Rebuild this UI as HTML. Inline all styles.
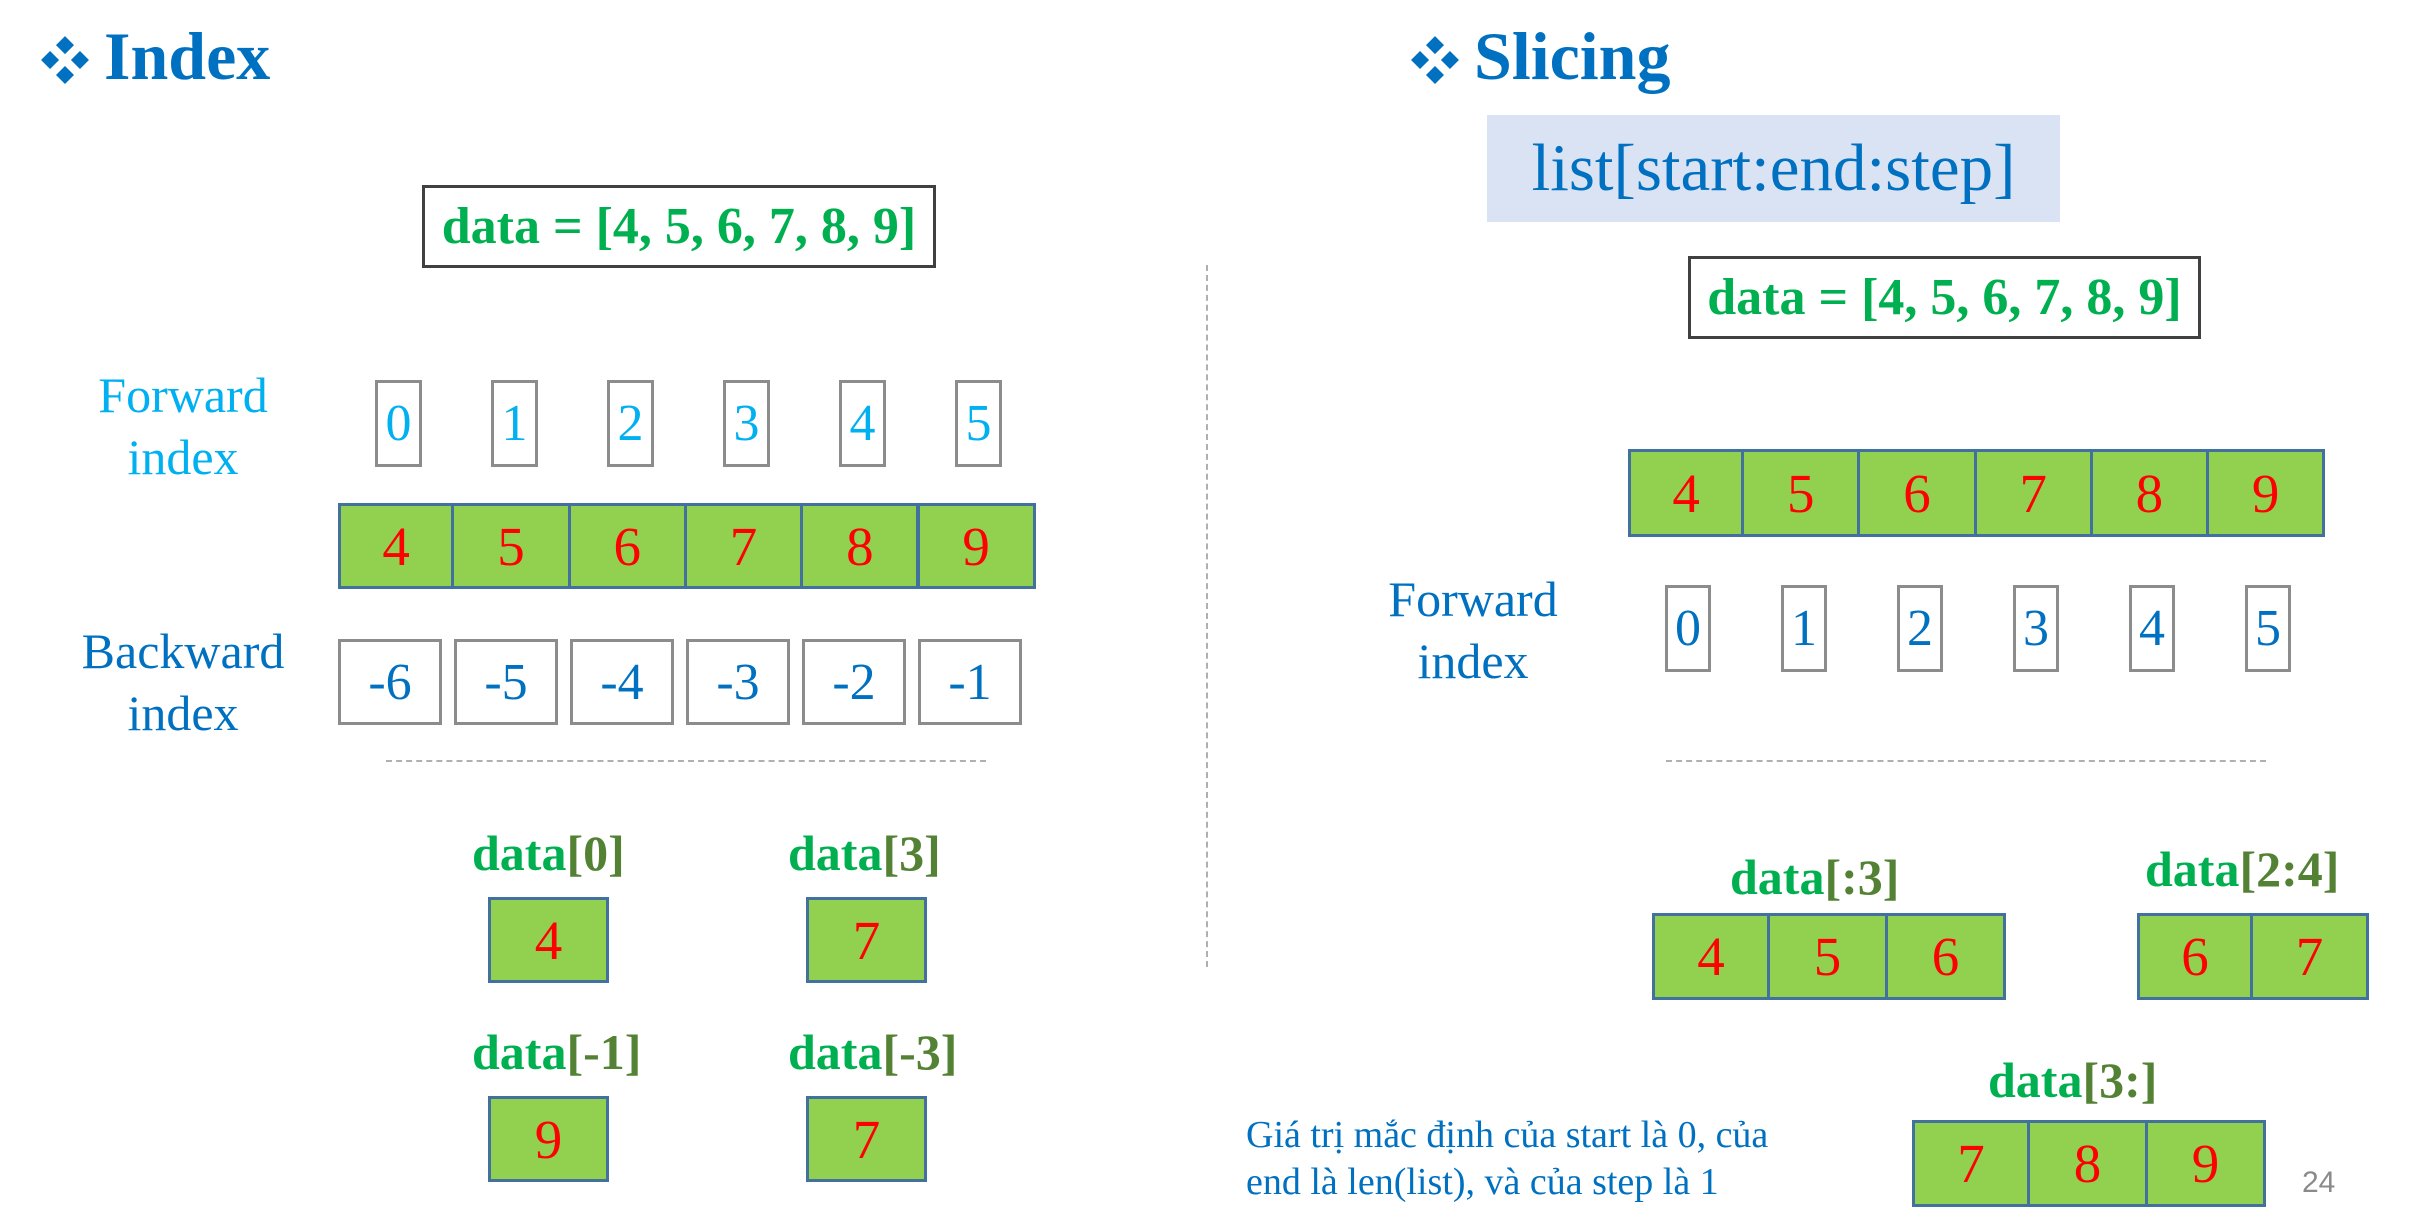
<!DOCTYPE html>
<html><head><meta charset="utf-8">
<style>
html,body{margin:0;padding:0;background:#fff;}
#slide{position:relative;width:2418px;height:1226px;overflow:hidden;background:#fff;font-family:"Liberation Serif","Noto Serif CJK SC",serif;}
.abs{position:absolute;box-sizing:border-box;}
.title{color:#0070c0;font-weight:bold;font-size:68px;line-height:1;white-space:nowrap;}
.dia{color:#0070c0;font-size:50px;margin-right:14px;}
.lbl{font-size:50px;line-height:62px;text-align:center;white-space:nowrap;}
.databox{border:3px solid #404040;background:#fff;color:#00b050;font-weight:bold;font-size:52px;display:flex;align-items:center;justify-content:center;white-space:nowrap;}
.g{border:3px solid #41719c;background:#92d050;color:#ff0000;font-size:55px;display:flex;align-items:center;justify-content:center;}
.ib{border:3px solid #8c8c8c;background:#fff;font-size:52px;display:flex;align-items:center;justify-content:center;}
.cap{color:#00b050;font-weight:bold;font-size:50px;line-height:1;white-space:nowrap;}
.cap span{color:#548235;}
.dash{border-top:2px dashed #b0b0b0;height:0;}
</style></head>
<body>
<div id="slide">
  <div class="abs title" style="left:40px;top:22px;"><span class="dia">❖</span>Index</div>
  <div class="abs title" style="left:1410px;top:22px;"><span class="dia">❖</span>Slicing</div>

  <div class="abs databox" style="left:422px;top:185px;width:514px;height:83px;">data = [4, 5, 6, 7, 8, 9]</div>

  <div class="abs lbl" style="left:68px;top:364px;width:230px;color:#00b0f0;">Forward<br>index</div>
  <div class="abs lbl" style="left:68px;top:620px;width:230px;color:#0070c0;">Backward<br>index</div>

  <div class="abs dash" style="left:386px;top:760px;width:600px;"></div>
  <div class="abs" style="left:1206px;top:265px;width:0;height:702px;border-left:2px dashed #b0b0b0;"></div>

  <div class="abs cap" style="left:472px;top:828px;">data<span>[0]</span></div>
  <div class="abs cap" style="left:788px;top:828px;">data<span>[3]</span></div>
  <div class="abs cap" style="left:472px;top:1027px;">data<span>[-1]</span></div>
  <div class="abs cap" style="left:788px;top:1027px;">data<span>[-3]</span></div>

  <div class="abs" style="left:1487px;top:115px;width:573px;height:107px;background:#dae3f3;color:#0070c0;font-size:67px;display:flex;align-items:center;justify-content:center;">list[start:end:step]</div>
  <div class="abs databox" style="left:1688px;top:256px;width:513px;height:83px;">data = [4, 5, 6, 7, 8, 9]</div>

  <div class="abs lbl" style="left:1368px;top:568px;width:210px;color:#0070c0;">Forward<br>index</div>
  <div class="abs dash" style="left:1666px;top:760px;width:600px;"></div>

  <div class="abs cap" style="left:1730px;top:852px;">data<span>[:3]</span></div>
  <div class="abs cap" style="left:2145px;top:844px;">data<span>[2:4]</span></div>
  <div class="abs cap" style="left:1988px;top:1055px;">data<span>[3:]</span></div>

  <div class="abs" style="left:1246px;top:1112px;width:620px;color:#0070c0;font-size:38px;line-height:47px;">Giá trị mắc định của start là 0, của<br>end là len(list), và của step là 1</div>
  <div class="abs" style="left:2302px;top:1166px;color:#8a8a8a;font-family:'Liberation Sans',sans-serif;font-size:30px;">24</div>
</div>
<script>
const dataValues = [4, 5, 6, 7, 8, 9];
const forwardIdx = ["0","1","2","3","4","5"];
const backwardIdx = ["-6","-5","-4","-3","-2","-1"];
const sliceTo3 = [4, 5, 6];
const slice2to4 = [6, 7];
const sliceFrom3 = [7, 8, 9];
const picks = [4, 7, 9, 7];

const slide = document.getElementById('slide');
function cell(x, y, w, h, text, cls, color, name) {
  const el = document.createElement('div');
  el.className = 'abs ' + cls;
  el.style.left = x + 'px';
  el.style.top = y + 'px';
  el.style.width = w + 'px';
  el.style.height = h + 'px';
  if (color) el.style.color = color;
  el.textContent = text;
  
  
  slide.appendChild(el);
}
function greenRow(vals, x, y, cw, h, prefix) {
  vals.forEach((v, i) => cell(x + i * cw - (i ? 3 : 0), y, cw + (i ? 3 : 0), h, String(v), 'g', null, prefix + '-' + i));
}
// left side
forwardIdx.forEach((t, i) => cell(375 + i * 116, 380, 47, 87, t, 'ib', '#00b0f0', 'forward-index-box-left-' + i));
greenRow(dataValues, 338, 503, 116.3, 86, 'data-cell-left');
backwardIdx.forEach((t, i) => cell(338 + i * 116, 639, 104, 86, t, 'ib', '#0070c0', 'backward-index-box-' + i));
cell(488, 897, 121, 86, String(picks[0]), 'g', null, 'result-data-0');
cell(806, 897, 121, 86, String(picks[1]), 'g', null, 'result-data-3');
cell(488, 1096, 121, 86, String(picks[2]), 'g', null, 'result-data-neg1');
cell(806, 1096, 121, 86, String(picks[3]), 'g', null, 'result-data-neg3');
// right side
greenRow(dataValues, 1628, 449, 116.2, 88, 'data-cell-right');
forwardIdx.forEach((t, i) => cell(1665 + i * 116, 585, 46, 87, t, 'ib', '#0070c0', 'forward-index-box-right-' + i));
greenRow(sliceTo3, 1652, 913, 118, 87, 'slice-to-3-cell');
greenRow(slice2to4, 2137, 913, 116, 87, 'slice-2-4-cell');
greenRow(sliceFrom3, 1912, 1120, 118, 87, 'slice-from-3-cell');
</script>
</body></html>
